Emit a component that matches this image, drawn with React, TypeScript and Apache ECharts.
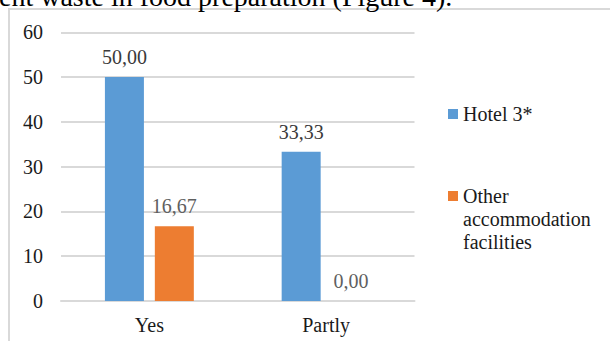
import React, { useEffect, useRef } from "react";
import * as echarts from "echarts";

const categories = ["Yes", "Partly"];
const seriesNames = ["Hotel 3*", "Other accommodation facilities"];
const hotelValues = [50.0, 33.33];
const otherValues = [16.67, 0.0];
const yTicks = { min: 0, max: 60, interval: 10 };
const captionText = "ent waste in food preparation (Figure 4).";

const SERIF = '"Liberation Serif", "Times New Roman", serif';
const BLUE = "#5B9BD5";
const ORANGE = "#ED7D31";
const GRID_GRAY = "#D9D9D9";

const fmtComma = (v: number) => v.toFixed(2).replace(".", ",");

// The long legend name wraps word by word; two blank lines on top keep its
// first line level with the swatch, since legend text is centred on its icon.
const wrapLongName = (name: string) =>
  "{t|}\n{t|}\n" + name.split(" ").map((w) => `{t|${w}}`).join("\n");

export default function App() {
  const ref = useRef<HTMLDivElement>(null);

  useEffect(() => {
    if (!ref.current) return;
    const chart = echarts.init(ref.current, undefined, { renderer: "svg" });

    const barLabel = (color: string) => ({
      show: true,
      position: "top" as const,
      distance: 10,
      fontFamily: SERIF,
      fontSize: 20,
      color,
      formatter: (p: any) => fmtComma(Number(p.value)),
    });

    const tokenStyle = {
      fontFamily: SERIF,
      fontSize: 20,
      lineHeight: 23,
      color: "#1a1a1a",
    };

    chart.setOption({
      animation: false,
      backgroundColor: "#ffffff",
      textStyle: { fontFamily: SERIF },
      graphic: [
        {
          type: "rect",
          shape: { x: 9, y: 9, width: 700, height: 400 },
          style: { fill: "none", stroke: GRID_GRAY, lineWidth: 2 },
          silent: true,
        },
        {
          type: "text",
          x: -1,
          y: -4,
          style: {
            text: captionText,
            font: `28px ${SERIF}`,
            fill: "#000000",
            verticalAlign: "middle",
          },
          silent: true,
        },
      ],
      grid: { left: 61, right: 195.5, top: 32.3, bottom: 40, containLabel: false },
      legend: [
        {
          data: [seriesNames[0]],
          orient: "vertical",
          left: 448,
          top: 104,
          padding: 0,
          itemWidth: 10,
          itemHeight: 10,
          itemGap: 0,
          icon: "rect",
          textStyle: { fontFamily: SERIF, fontSize: 20, color: "#1a1a1a" },
        },
        {
          data: [seriesNames[1]],
          orient: "vertical",
          left: 448,
          top: 138.5,
          padding: 0,
          itemWidth: 10,
          itemHeight: 10,
          itemGap: 0,
          icon: "rect",
          formatter: wrapLongName,
          textStyle: { ...tokenStyle, rich: { t: tokenStyle } },
        },
      ],
      xAxis: {
        type: "category",
        data: categories,
        axisLine: { show: true, lineStyle: { color: GRID_GRAY, width: 2 } },
        axisTick: { show: false },
        axisLabel: { fontFamily: SERIF, fontSize: 20, color: "#1a1a1a", margin: 14 },
      },
      yAxis: {
        type: "value",
        min: yTicks.min,
        max: yTicks.max,
        interval: yTicks.interval,
        axisLine: { show: false },
        axisTick: { show: false },
        splitLine: { lineStyle: { color: GRID_GRAY, width: 2 } },
        axisLabel: { fontFamily: SERIF, fontSize: 20, color: "#1a1a1a", margin: 18 },
      },
      series: [
        {
          name: seriesNames[0],
          type: "bar",
          data: hotelValues,
          barWidth: 39,
          barGap: "28%",
          itemStyle: { color: BLUE },
          label: barLabel("#3a3a3a"),
        },
        {
          name: seriesNames[1],
          type: "bar",
          data: otherValues,
          barWidth: 39,
          barGap: "28%",
          itemStyle: { color: ORANGE },
          label: barLabel("#5f5f5f"),
        },
      ],
    });

    return () => chart.dispose();
  }, []);

  return (
    <div
      ref={ref}
      style={{ position: "fixed", left: 0, top: 0, width: 610, height: 341 }}
    />
  );
}
